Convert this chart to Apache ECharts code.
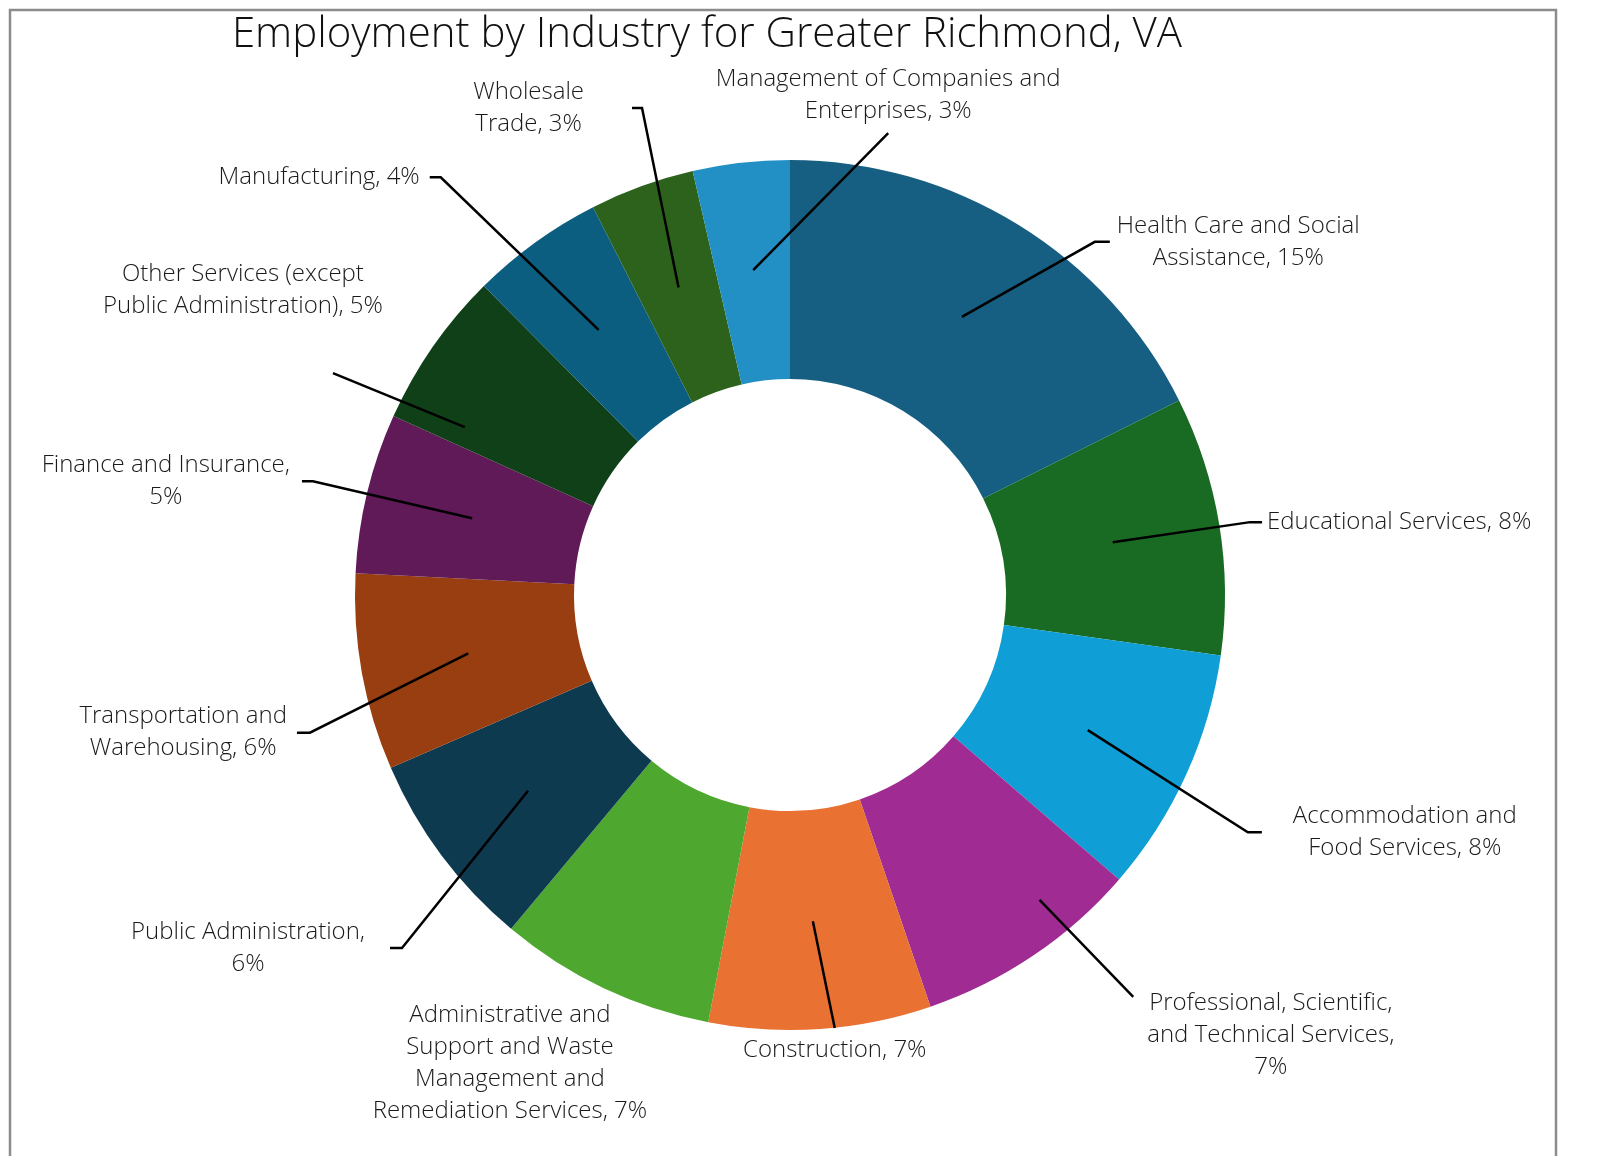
<!DOCTYPE html>
<html>
<head>
<meta charset="utf-8">
<script src="https://cdn.jsdelivr.net/npm/echarts@6/dist/echarts.min.js"></script>
<style>
html,body{margin:0;padding:0;background:#fff;overflow:hidden;}
#chart{width:1615px;height:1156px;}
</style>
</head>
<body>
<div id="chart"></div>
<script>
const categories = [
  "Health Care and Social Assistance",
  "Educational Services",
  "Accommodation and Food Services",
  "Professional, Scientific, and Technical Services",
  "Construction",
  "Administrative and Support and Waste Management and Remediation Services",
  "Public Administration",
  "Transportation and Warehousing",
  "Finance and Insurance",
  "Other Services (except Public Administration)",
  "Manufacturing",
  "Wholesale Trade",
  "Management of Companies and Enterprises"
];
// share of total employment, %
const shares = [14.96, 8.15, 7.75, 7.15, 7.0, 6.85, 6.3, 6.2, 5.05, 4.95, 4.2, 3.3, 3.05];
const labelLines = [
  "Health Care and Social\nAssistance",
  "Educational Services",
  "Accommodation and\nFood Services",
  "Professional, Scientific,\nand Technical Services,\n",
  "Construction",
  "Administrative and\nSupport and Waste\nManagement and\nRemediation Services",
  "Public Administration,\n",
  "Transportation and\nWarehousing",
  "Finance and Insurance,\n",
  "Other Services (except\nPublic Administration)",
  "Manufacturing",
  "Wholesale\nTrade",
  "Management of Companies and\nEnterprises"
];
const colors = ["#165F82","#196B24","#0F9ED5","#A02B93","#E97132","#4EA72E",
  "#0E3A50","#983E11","#5F1A57","#104017","#0B5E80","#2D621C","#2290C4"];

// label placement (leader elbow as polar angle/radius from the pie centre, horizontal tail, text side)
const labelPlacement = [
  {a:40.8,  r:466.5, h:15, side:'right', gap:7},
  {a:81.0,  r:465.8, h:12, side:'right', gap:5},
  {a:117.4, r:515.7, h:14, side:'right', gap:31},
  {a:139.5, r:528.5, h:0,  side:'right', gap:14, oy:38, sa:140.7, sr:394},
  {a:174.1, r:435.3, h:0,  side:'below', gap:6},
  {a:210.9, r:545.4, h:0,  side:'none'},
  {a:227.7, r:524.6, h:12, side:'left', gap:25},
  {a:254.0, r:499.4, h:13, side:'left', gap:10},
  {a:283.4, r:490.4, h:11, side:'left', gap:12},
  {a:295.9, r:508.1, h:0,  side:'free', ox:-90, oy:-83, sa:297.3, sr:366},
  {a:320.1, r:544.5, h:11, side:'left', gap:10},
  {a:343.1, r:509.0, h:10, side:'left', gap:48},
  {a:12.0,  r:472.3, h:0,  side:'above', gap:6}
];

const chart = echarts.init(document.getElementById('chart'), null, {renderer:'canvas'});
const CX = 790, CY = 595;
const font = '"Open Sans", Lato, sans-serif';

function labelText(i){
  const t = labelLines[i];
  const p = Math.round(shares[i]) + '%';
  return t.endsWith('\n') ? t + p : t + ', ' + p;
}
function polar(a, r){
  const rad = a * Math.PI / 180;
  return [CX + r * Math.sin(rad), CY - r * Math.cos(rad)];
}

const ringData = categories.map((c,i)=>({name:c, value:shares[i], itemStyle:{color:colors[i]}}));
const labelData = categories.map((c,i)=>{
  const d = {name:c, value:shares[i]};
  if (labelPlacement[i].side === 'none') d.labelLine = {show:false};
  return d;
});

chart.setOption({
  animation:false,
  title:{
    text:"Employment by Industry for Greater Richmond, VA",
    left:702, top:9, textAlign:'center',
    textStyle:{fontFamily:font, fontWeight:300, fontSize:42, color:'#111'}
  },
  graphic:[{type:'rect', shape:{x:10,y:10,width:1546,height:1200}, style:{fill:null, stroke:'#8c8c8c', lineWidth:2.5}, silent:true}],
  series:[
    {
      type:'pie', z:2, center:[CX,CY], radius:[216,435], startAngle:90, clockwise:true,
      data:ringData, label:{show:false}, labelLine:{show:false},
      itemStyle:{borderWidth:0}, emphasis:{disabled:true}
    },
    {
      type:'pie', z:5, center:[CX,CY], radius:[0,327], startAngle:90, clockwise:true,
      data:labelData,
      itemStyle:{color:'rgba(0,0,0,0)'},
      emphasis:{disabled:true},
      label:{
        show:true, position:'outer', alignTo:'none',
        formatter:(p)=>labelText(p.dataIndex),
        fontFamily:font, fontWeight:300, fontSize:24, lineHeight:32, color:'#1a1a1a', align:'center'
      },
      labelLine:{show:true, length:150, length2:16, smooth:false,
        lineStyle:{color:'#000', width:2.5}},
      labelLayout:function(params){
        const L = labelPlacement[params.dataIndex];
        const w = params.labelRect.width, hgt = params.labelRect.height;
        if (L.side === 'none') {
          const c = polar(L.a, L.r);
          return {x:c[0], y:c[1], align:'center', verticalAlign:'middle'};
        }
        const pts = params.labelLinePoints;
        let start = pts ? pts[0] : polar(0, 327);
        if (L.sa !== undefined) start = polar(L.sa, L.sr);
        const elbow = polar(L.a, L.r);
        const dir = elbow[0] < CX ? -1 : 1;
        const end = [elbow[0] + dir * L.h, elbow[1]];
        let x, y;
        if (L.side === 'right') { x = end[0] + L.gap + w/2; y = end[1] + (L.oy||0); }
        else if (L.side === 'left') { x = end[0] - L.gap - w/2; y = end[1] + (L.oy||0); }
        else if (L.side === 'below') { x = end[0] + (L.ox||0); y = end[1] + L.gap + hgt/2; }
        else if (L.side === 'above') { x = end[0] + (L.ox||0); y = end[1] - L.gap - hgt/2; }
        else { x = end[0] + L.ox; y = end[1] + L.oy; }
        return {
          x:x, y:y, align:'center', verticalAlign:'middle',
          labelLinePoints:[start, elbow, end]
        };
      }
    }
  ]
});
</script>
</body>
</html>
